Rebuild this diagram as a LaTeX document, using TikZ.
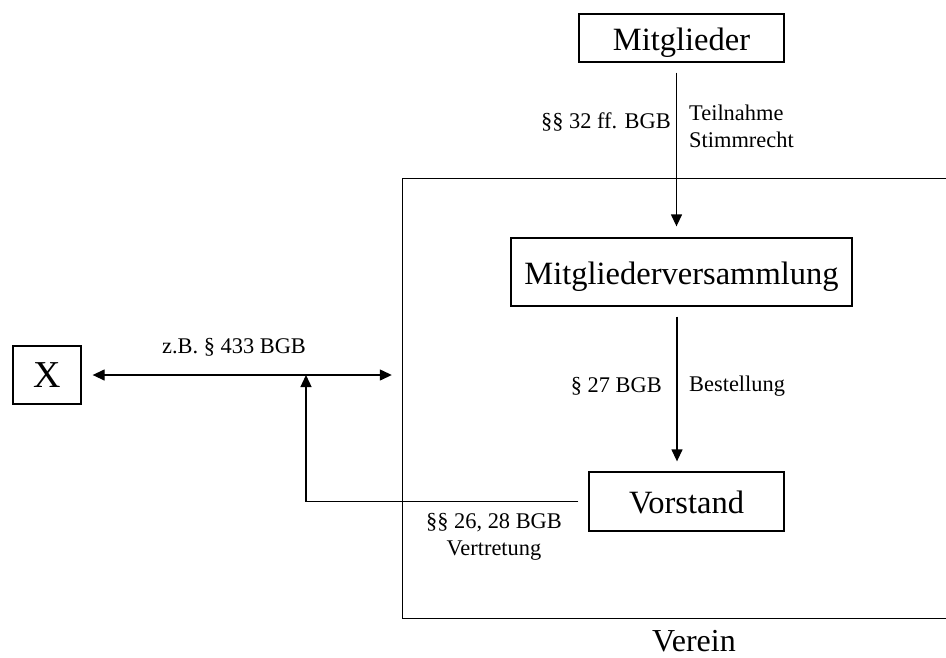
\documentclass[tikz,border=0pt]{standalone}
\usepackage{fontspec}
\setmainfont{Liberation Serif}
\usetikzlibrary{arrows.meta}
\begin{document}
\begin{tikzpicture}[x=1pt,y=-1pt,
  box/.style={draw, line width=1.3pt, inner sep=0pt, text height=24.5pt, text depth=0pt, font=\fontsize{32.5}{39}\selectfont},
  lbl/.style={inner sep=0pt, font=\fontsize{22.4}{27}\selectfont},
  conn/.style={line width=1.3pt},
  tip/.style={conn, -{Triangle[length=12pt,width=11pt]}},
  bothtips/.style={conn, {Triangle[length=12pt,width=11pt]}-{Triangle[length=12pt,width=11pt]}}]
\useasboundingbox (0,0) rectangle (946,657);

% organs of the association
\node[box, minimum width=205pt, minimum height=48pt] (mit) at (681.5,38) {Mitglieder};
\node[box, minimum width=341pt, minimum height=68pt] (mv) at (681.5,272) {Mitgliederversammlung};
\node[box, minimum width=195pt, minimum height=59pt] (vor) at (686.5,501.5) {Vorstand};
\node[box, minimum width=68pt, minimum height=58pt, text height=25pt, font=\fontsize{38}{44}\selectfont] (x) at (47,375) {X};

% frame of the Verein, open to the right
\node[minimum width=547pt, minimum height=439pt, inner sep=0pt] (verein) at (676.5,398.5) {};
\draw[conn] (verein.north east) -- (verein.north west) -- (verein.south west) -- (verein.south east);
\node[inner sep=0pt, anchor=base, font=\fontsize{32}{38}\selectfont] (vereinlbl) at (694,651) {Verein};

% Mitglieder -> Mitgliederversammlung
\draw[tip] ([xshift=-5pt,yshift=-10pt]mit.south) -- ([xshift=-5pt,yshift=11pt]mv.north);
\node[lbl, anchor=east] (l1) at (671,122) {§§ 32 ff. BGB};
\node[lbl, anchor=west, align=left] (r1) at (689,126.5) {Teilnahme\\Stimmrecht};

% Mitgliederversammlung -> Vorstand
\draw[tip] ([xshift=-4.5pt,yshift=-10pt]mv.south) -- ([xshift=-9.5pt,yshift=10pt]vor.north);
\node[lbl, anchor=east] (l2) at (662,386) {§ 27 BGB};
\node[lbl, anchor=west] (r2) at (689,386) {Bestellung};

% X <-> Verein
\draw[bothtips] ([xshift=11pt]x.east) -- ([xshift=-11pt]x.east -| verein.west);
\node[lbl] (l3) at (234,347) {z.B. § 433 BGB};

% Vorstand represents the Verein
\coordinate (j) at (306,375);
\draw[tip] ([xshift=-10pt]vor.west) -| (j);
\node[lbl, align=center] (l4) at (494,536.5) {§§ 26, 28 BGB\\Vertretung};
\end{tikzpicture}
\end{document}
